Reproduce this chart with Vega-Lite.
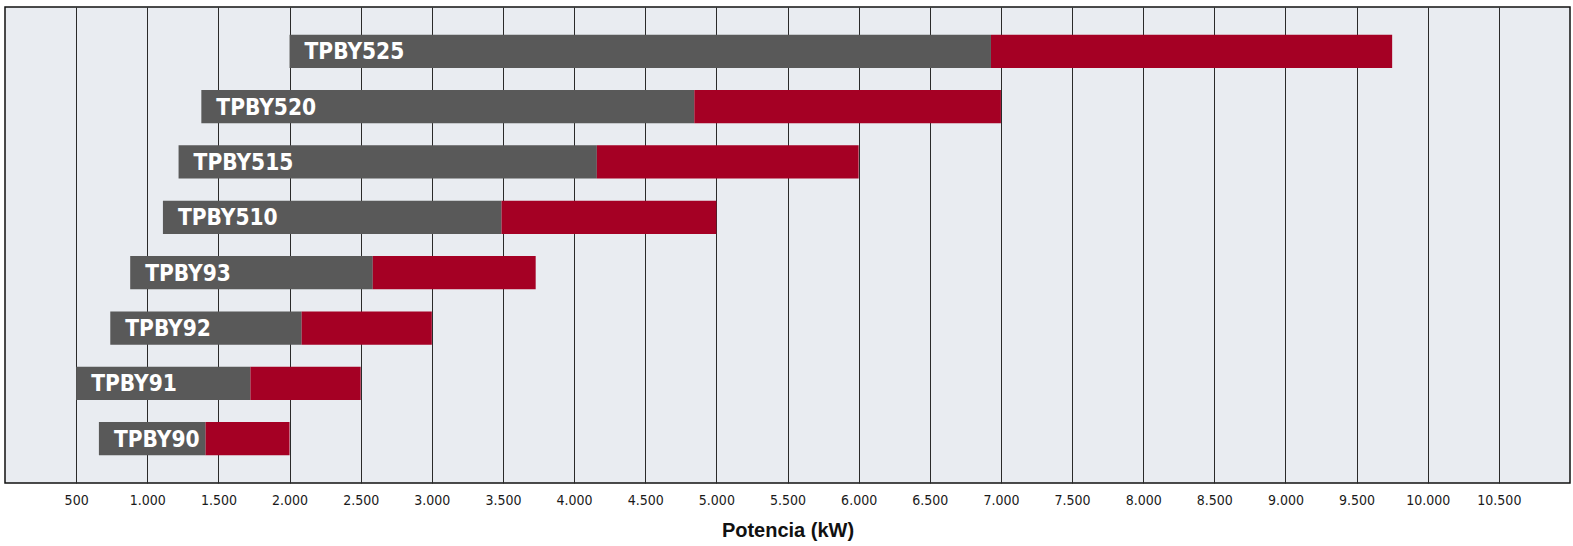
{
  "$schema": "https://vega.github.io/schema/vega-lite/v6.json",
  "width": 1565,
  "height": 476,
  "autosize": {"type": "none"},
  "padding": {"left": 5, "top": 7, "right": 3, "bottom": 63},
  "background": "white",
  "data": {
    "values": [
      {"model": "TPBY525", "start": 2000, "mid": 6930, "end": 9750},
      {"model": "TPBY520", "start": 1380, "mid": 4845, "end": 7000},
      {"model": "TPBY515", "start": 1220, "mid": 4160, "end": 6000},
      {"model": "TPBY510", "start": 1110, "mid": 3490, "end": 5000},
      {"model": "TPBY93", "start": 880, "mid": 2585, "end": 3730},
      {"model": "TPBY92", "start": 740, "mid": 2085, "end": 3000},
      {"model": "TPBY91", "start": 500, "mid": 1725, "end": 2500},
      {"model": "TPBY90", "start": 660, "mid": 1410, "end": 2000}
    ]
  },
  "encoding": {
    "y": {
      "field": "model",
      "type": "nominal",
      "sort": null,
      "scale": {"paddingInner": 0.4, "paddingOuter": 0.5},
      "axis": null
    }
  },
  "layer": [
    {
      "mark": {"type": "bar", "color": "#595959"},
      "encoding": {
        "x": {
          "field": "start",
          "type": "quantitative",
          "scale": {"domain": [0, 11000], "nice": false},
          "axis": {
            "values": [500, 1000, 1500, 2000, 2500, 3000, 3500, 4000, 4500, 5000, 5500, 6000, 6500, 7000, 7500, 8000, 8500, 9000, 9500, 10000, 10500],
            "labelExpr": "replace(format(datum.value, ','), ',', '.')",
            "grid": true,
            "gridColor": "#2a2a2a",
            "gridWidth": 1,
            "gridOpacity": 1,
            "ticks": false,
            "domain": false,
            "labelFont": "DejaVu Sans Condensed, Roboto, sans-serif",
            "labelFontSize": 14,
            "labelColor": "#1a1a1a",
            "labelPadding": 10,
            "title": "Potencia (kW)",
            "titleFont": "Liberation Sans, Arial, sans-serif",
            "titleFontSize": 20,
            "titleFontWeight": "bold",
            "titleColor": "#111111",
            "titlePadding": 13
          }
        },
        "x2": {"field": "mid"}
      }
    },
    {
      "mark": {"type": "bar", "color": "#a50024"},
      "encoding": {
        "x": {"field": "mid", "type": "quantitative"},
        "x2": {"field": "end"}
      }
    },
    {
      "mark": {
        "type": "text",
        "align": "left",
        "baseline": "middle",
        "dx": 15,
        "dy": 1,
        "color": "white",
        "font": "DejaVu Sans Condensed, Roboto, sans-serif",
        "fontWeight": "bold",
        "fontSize": 22.5
      },
      "encoding": {
        "x": {"field": "start", "type": "quantitative"},
        "text": {"field": "model"}
      }
    }
  ],
  "config": {
    "view": {"fill": "#e9ecf1", "stroke": "#111111", "strokeWidth": 1.5}
  }
}
